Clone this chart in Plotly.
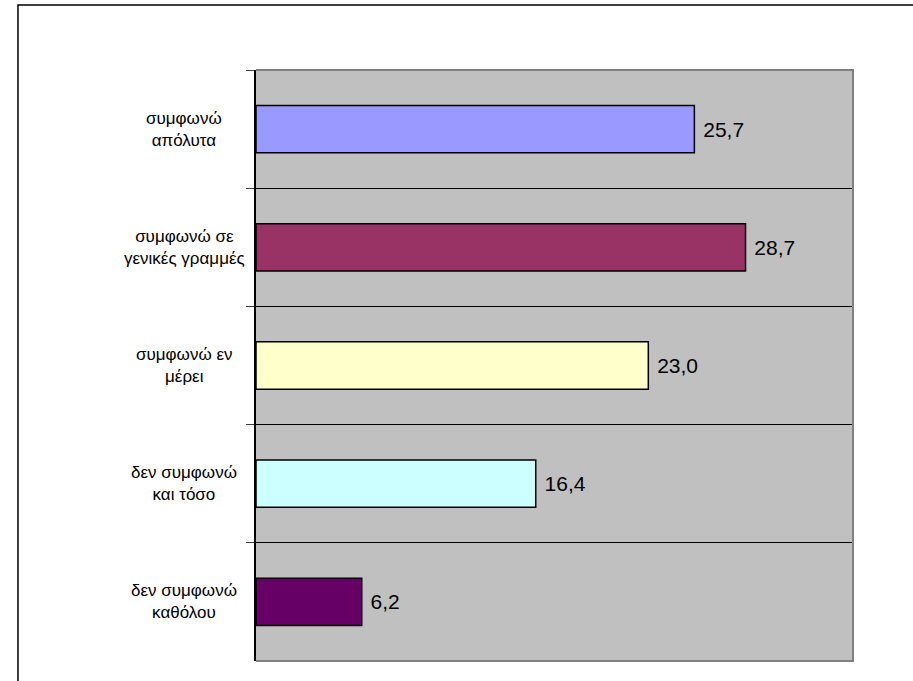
import plotly.graph_objs as go

categories = ["συμφωνώ απόλυτα", "συμφωνώ σε γενικές γραμμές", "συμφωνώ εν μέρει",
              "δεν συμφωνώ και τόσο", "δεν συμφωνώ καθόλου"]
label_lines = ["συμφωνώ<br>απόλυτα", "συμφωνώ σε<br>γενικές γραμμές", "συμφωνώ εν<br>μέρει",
               "δεν συμφωνώ<br>και τόσο", "δεν συμφωνώ<br>καθόλου"]
values = [25.7, 28.7, 23.0, 16.4, 6.2]
colors = ["#9999FF", "#993366", "#FFFFCC", "#CCFFFF", "#660066"]

font = "Liberation Sans, Arial, sans-serif"

bars = go.Bar(
    x=values,
    y=categories,
    orientation="h",
    width=0.4,
    marker=dict(color=colors, line=dict(color="black", width=1.5)),
    texttemplate="\u00a0%{x:.1f}",
    textposition="outside",
    textfont=dict(family=font, size=21, color="black"),
    cliponaxis=False,
)

layout = go.Layout(
    width=913,
    height=681,
    margin=dict(l=256, r=60, t=70, b=20),
    paper_bgcolor="white",
    plot_bgcolor="#C0C0C0",
    separators=",.",
    showlegend=False,
    font=dict(family=font, size=18, color="black"),
    xaxis=dict(range=[0, 35], showgrid=False, zeroline=False, showticklabels=False,
               showline=False, fixedrange=True),
    yaxis=dict(categoryorder="array", categoryarray=categories, autorange="reversed",
               tickson="boundaries", ticks="outside", ticklen=8, tickcolor="#404040",
               showticklabels=False, showgrid=True, gridcolor="black", gridwidth=1,
               showline=True, linecolor="black", linewidth=2, zeroline=False),
)

fig = go.Figure(data=[bars], layout=layout)

# category labels, centred like the original
for cat, txt in zip(categories, label_lines):
    fig.add_annotation(x=-0.12, xref="paper", y=cat, yref="y", text=txt,
                       showarrow=False, xanchor="center", yanchor="middle",
                       align="center", font=dict(family=font, size=17, color="black"))

# gray frame on top / right / bottom of plot area
fig.add_shape(type="path", xref="paper", yref="paper",
              path="M 0 1 L 1 1 L 1 0 L 0 0", line=dict(color="#808080", width=2),
              layer="above")
# outer chart border (top and left visible)
fig.add_shape(type="path", xref="paper", yref="paper",
              path="M 1.2 1.11 L -0.3987 1.11 L -0.3987 -0.1",
              line=dict(color="black", width=1.5), layer="above")

# drop the default page margin so the figure sits at the window corner
fig.write_html("out.html", config={"displayModeBar": False},
               post_script="document.body.style.margin='0';")
